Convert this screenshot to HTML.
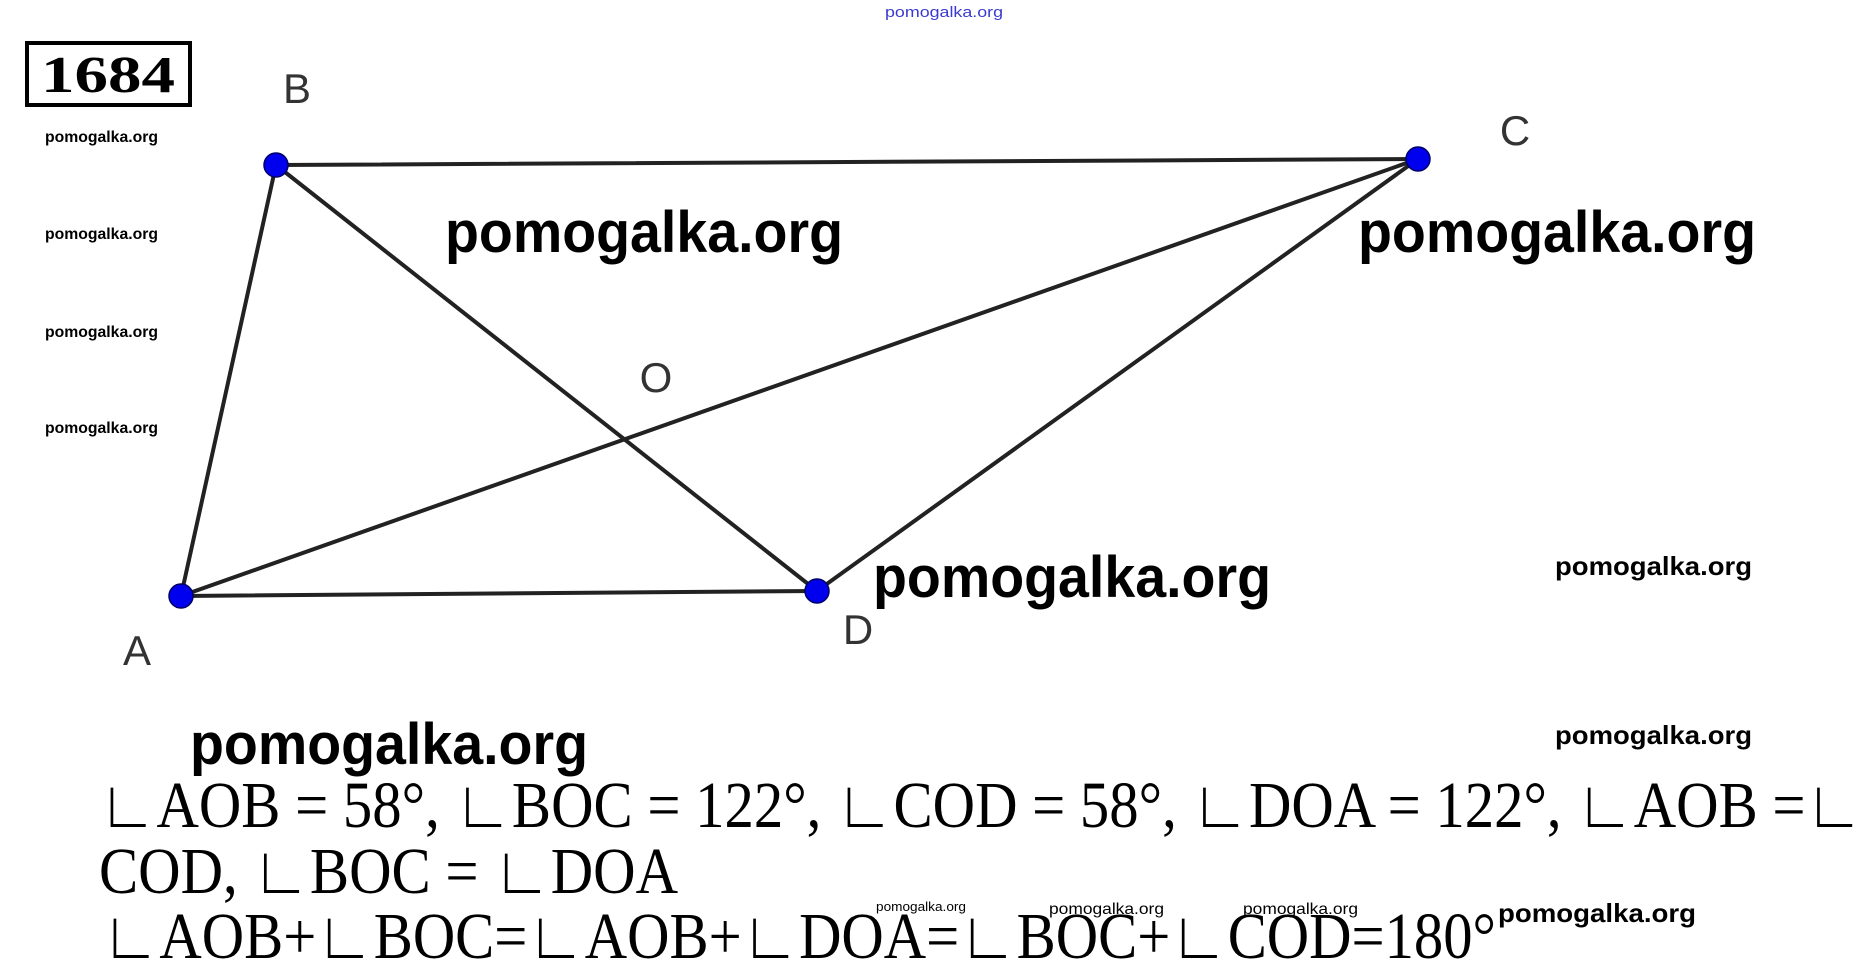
<!DOCTYPE html>
<html><head><meta charset="utf-8"><style>
html,body{margin:0;padding:0;background:#fff;}
svg{display:block;}
</style></head><body>
<svg width="1869" height="966" viewBox="0 0 1869 966" xmlns="http://www.w3.org/2000/svg">
<rect width="1869" height="966" fill="#fff"/>
<text x="944" y="17" font-family="Liberation Sans, sans-serif" font-size="15" fill="#3a3ad0" text-anchor="middle" textLength="118" lengthAdjust="spacingAndGlyphs">pomogalka.org</text>
<rect x="27" y="43" width="163" height="62" fill="none" stroke="#000" stroke-width="4"/>
<text x="108" y="92" font-family="Liberation Serif, serif" font-weight="bold" font-size="52" text-anchor="middle" textLength="134" lengthAdjust="spacingAndGlyphs">1684</text>
<g font-family="Liberation Sans, sans-serif" font-size="16" font-weight="bold">
<text x="45" y="142" textLength="113" lengthAdjust="spacingAndGlyphs">pomogalka.org</text>
<text x="45" y="239" textLength="113" lengthAdjust="spacingAndGlyphs">pomogalka.org</text>
<text x="45" y="337" textLength="113" lengthAdjust="spacingAndGlyphs">pomogalka.org</text>
<text x="45" y="433" textLength="113" lengthAdjust="spacingAndGlyphs">pomogalka.org</text>
</g>
<g stroke="#222" stroke-width="4" fill="none" stroke-linecap="round">
<line x1="276" y1="165" x2="1418" y2="159"/>
<line x1="276" y1="165" x2="181" y2="596"/>
<line x1="181" y1="596" x2="817" y2="591"/>
<line x1="181" y1="596" x2="1418" y2="159"/>
<line x1="276" y1="165" x2="817" y2="591"/>
<line x1="817" y1="591" x2="1418" y2="159"/>
</g>
<g fill="#0000ee" stroke="#000066" stroke-width="1.5">
<circle cx="276" cy="165" r="12"/>
<circle cx="1418" cy="159" r="12"/>
<circle cx="181" cy="596" r="12"/>
<circle cx="817" cy="591" r="12"/>
</g>
<g font-family="Liberation Sans, sans-serif" font-size="42" fill="#333" text-anchor="middle">
<text x="297" y="103">B</text>
<text x="1515" y="145">C</text>
<text x="137" y="665">A</text>
<text x="858" y="644">D</text>
<text x="656" y="392">O</text>
</g>
<g font-family="Liberation Sans, sans-serif" font-weight="bold" font-size="58" fill="#000">
<text x="445" y="252" textLength="398" lengthAdjust="spacingAndGlyphs">pomogalka.org</text>
<text x="1358" y="252" textLength="398" lengthAdjust="spacingAndGlyphs">pomogalka.org</text>
<text x="873" y="597" textLength="398" lengthAdjust="spacingAndGlyphs">pomogalka.org</text>
<text x="190" y="764" textLength="398" lengthAdjust="spacingAndGlyphs">pomogalka.org</text>
</g>
<g font-family="Liberation Sans, sans-serif" font-weight="bold" font-size="26" fill="#000">
<text x="1555" y="575" textLength="197" lengthAdjust="spacingAndGlyphs">pomogalka.org</text>
<text x="1555" y="744" textLength="197" lengthAdjust="spacingAndGlyphs">pomogalka.org</text>
<text x="1498" y="922" textLength="198" lengthAdjust="spacingAndGlyphs">pomogalka.org</text>
</g>
<g font-family="Liberation Sans, sans-serif" font-size="16" fill="#000">
<text x="876" y="911" textLength="90" lengthAdjust="spacingAndGlyphs" font-size="13">pomogalka.org</text>
<text x="1049" y="914" textLength="115" lengthAdjust="spacingAndGlyphs">pomogalka.org</text>
<text x="1243" y="914" textLength="115" lengthAdjust="spacingAndGlyphs">pomogalka.org</text>
</g>
<g font-family="Liberation Serif, serif" font-size="66" fill="#000">
<text x="99" y="827" textLength="1764" lengthAdjust="spacingAndGlyphs">∟AOB = 58°, ∟BOC = 122°, ∟COD = 58°, ∟DOA = 122°, ∟AOB =∟</text>
<text x="99" y="893" textLength="579" lengthAdjust="spacingAndGlyphs">COD, ∟BOC = ∟DOA</text>
<text x="102" y="958" textLength="1394" lengthAdjust="spacingAndGlyphs">∟AOB+∟BOC=∟AOB+∟DOA=∟BOC+∟COD=180°</text>
</g>
</svg>
</body></html>
